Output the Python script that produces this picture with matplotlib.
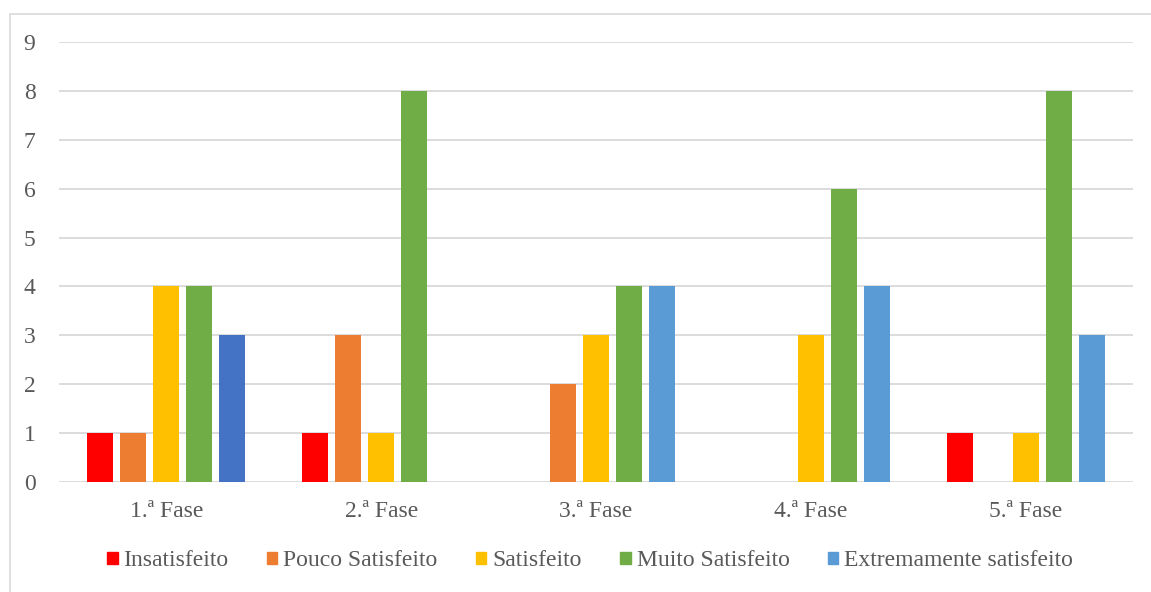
import matplotlib

matplotlib.use("Agg")
import matplotlib.pyplot as plt
import numpy as np
from matplotlib.patches import Rectangle

# data
PHASES = ["1.ª Fase", "2.ª Fase", "3.ª Fase", "4.ª Fase", "5.ª Fase"]
SERIES = ["Insatisfeito", "Pouco Satisfeito", "Satisfeito", "Muito Satisfeito",
          "Extremamente satisfeito"]
insatisfeito = [1, 1, 0, 0, 1]
pouco_satisfeito = [1, 3, 2, 0, 0]
satisfeito = [4, 1, 3, 3, 1]
muito_satisfeito = [4, 8, 4, 6, 8]
extremamente_satisfeito = [3, 0, 4, 4, 3]
Y_TICKS = list(range(10))

COLORS = ["#FF0000", "#ED7D31", "#FFC000", "#70AD47", "#5B9BD5"]
FIRST_BLUE = "#4472C4"          # the 1.ª Fase blue bar is a darker shade in the original
TEXT = "#595959"
GRID = "#D9D9D9"

plt.rcParams["font.family"] = ["Liberation Serif", "DejaVu Serif"]

W, H = 1151, 592
fig = plt.figure(figsize=(W / 100, H / 100), dpi=100)
ax = fig.add_axes([59 / W, 1 - 482 / H, (1133 - 59) / W, (482 - 42) / H])

# chart frame (cropped on right and bottom in the original)
fig.patches.append(Rectangle((10 / W, -0.1), 1.2, 1 - 14 / H + 0.1, transform=fig.transFigure,
                             fill=False, edgecolor="#D9D9D9", lw=1.2, zorder=0))

values = [insatisfeito, pouco_satisfeito, satisfeito, muito_satisfeito, extremamente_satisfeito]
x = np.arange(len(PHASES))
step, width = 0.1536, 0.121
for i, (name, vals, col) in enumerate(zip(SERIES, values, COLORS)):
    cols = [col] * len(vals)
    if i == 4:
        cols[0] = FIRST_BLUE
    ax.bar(x + (i - 2) * step, vals, width=width, color=cols, label=name, zorder=3)

ax.set_xlim(-0.5, len(PHASES) - 0.5)
ax.set_ylim(0, 9)
ax.set_yticks(Y_TICKS)
ax.set_xticks(x, PHASES)
ax.grid(axis="y", color=GRID, lw=1.3, zorder=0)
for s in ax.spines.values():
    s.set_visible(False)
ax.tick_params(axis="both", length=0, labelsize=17, colors=TEXT)
ax.tick_params(axis="y", pad=17)
ax.tick_params(axis="x", pad=14)

handles = [Rectangle((0, 0), 1, 1, color=c) for c in COLORS]
fig.legend(handles, SERIES, loc="center", bbox_to_anchor=(590 / W, 1 - 561 / H), ncol=5,
           frameon=False, fontsize=17, labelcolor=TEXT, handlelength=0.45, handleheight=0.45,
           handletextpad=0.25, columnspacing=1.62, borderaxespad=0)

fig.savefig("out.png", dpi=100)
